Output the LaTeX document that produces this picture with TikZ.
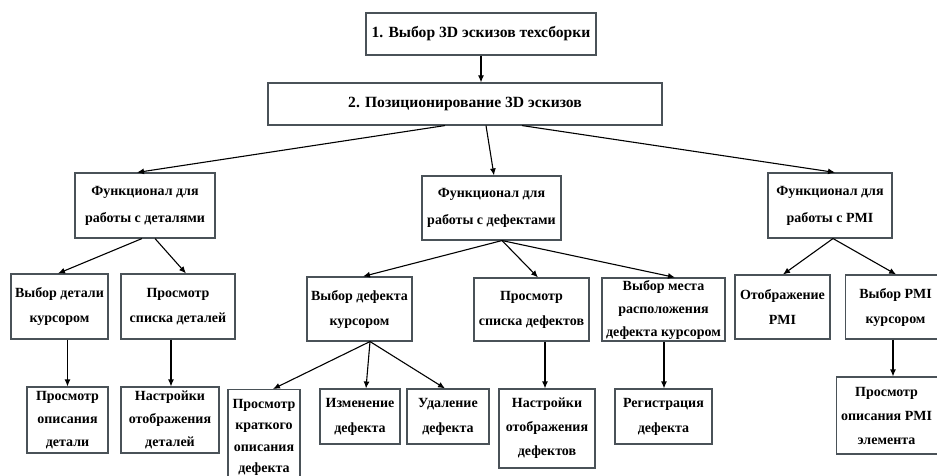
\documentclass[tikz,border=0pt]{standalone}
\usepackage{fontspec}
\setmainfont{Liberation Serif}
\usetikzlibrary{arrows.meta,calc}
\definecolor{boxgray}{HTML}{4A5258}
\tikzset{
  box/.style={draw=boxgray, line width=1.1pt, fill=white, align=center, inner sep=0pt,
    font=\fontsize{14}{25}\selectfont\bfseries},
  titlebox/.style={box, font=\fontsize{15.6}{20}\selectfont\bfseries},
  arr/.style={-{Latex[length=7pt,width=6pt]}, line width=1.1pt, black},
}
\begin{document}
\begin{tikzpicture}[x=1pt,y=-1pt]
\fill[white] (0,0) rectangle (937,476);
\useasboundingbox (0,0) rectangle (937,476);
% level 1-2
\node[titlebox, minimum width=230, minimum height=42] (b1) at (481,34) {1. Выбор 3D эскизов техсборки};
\node[titlebox, minimum width=394, minimum height=42] (b2) at (465,104) {2. Позиционирование 3D эскизов};
% level 3
\node[box, minimum width=140, minimum height=65, font=\fontsize{14}{27}\selectfont\bfseries] (f1) at (145,205.5) {Функционал для\\работы с деталями};
\node[box, minimum width=139, minimum height=64, font=\fontsize{14}{27}\selectfont\bfseries] (f2) at (491.5,208) {Функционал для\\работы с дефектами};
\node[box, minimum width=124, minimum height=65, font=\fontsize{14}{27}\selectfont\bfseries] (f3) at (830,205.5) {Функционал для\\работы с PMI};
% level 4
\node[box, minimum width=97, minimum height=65] (d1) at (59.5,306.5) {Выбор детали\\курсором};
\node[box, minimum width=114, minimum height=65] (d2) at (178,306.5) {Просмотр\\списка деталей};
\node[box, minimum width=105, minimum height=64] (e1) at (359.5,309) {Выбор дефекта\\курсором};
\node[box, minimum width=115, minimum height=63] (e2) at (531.5,309.5) {Просмотр\\списка дефектов};
\node[box, minimum width=123, minimum height=63, font=\fontsize{14}{23}\selectfont\bfseries] (e3) at (663.5,309.5) {Выбор места\\расположения\\дефекта курсором};
\node[box, minimum width=95, minimum height=64] (p1) at (782.5,307) {Отображение\\PMI};
\node[box, minimum width=100, minimum height=64, anchor=west] (p2) at (845,307) {Выбор PMI\\курсором};
% level 5
\node[box, minimum width=81, minimum height=66, font=\fontsize{14}{23}\selectfont\bfseries] (d3) at (67.5,420) {Просмотр\\описания\\детали};
\node[box, minimum width=98, minimum height=66, font=\fontsize{14}{23}\selectfont\bfseries] (d4) at (170,420) {Настройки\\отображения\\деталей};
\node[box, minimum width=72, minimum height=96, anchor=north, font=\fontsize{14}{21.5}\selectfont\bfseries] (e4) at (264,389) {Просмотр\\краткого\\описания\\дефекта};
\node[box, minimum width=80, minimum height=55] (e5) at (360,416.5) {Изменение\\дефекта};
\node[box, minimum width=82, minimum height=55] (e6) at (448,416.5) {Удаление\\дефекта};
\node[box, minimum width=96, minimum height=79, font=\fontsize{14}{24}\selectfont\bfseries] (e7) at (547,428.5) {Настройки\\отображения\\дефектов};
\node[box, minimum width=97, minimum height=55] (e8) at (663.5,416.5) {Регистрация\\дефекта};
\node[box, minimum width=110, minimum height=77, anchor=west, font=\fontsize{14}{24}\selectfont\bfseries] (p3) at (836,415.5) {\hspace*{-10pt}Просмотр\\\hspace*{-10pt}описания PMI\\\hspace*{-10pt}элемента};
% connectors
\draw[arr] (b1.south) -- (b1.south |- b2.north);
\draw[arr] ([xshift=-20pt]b2.south) -- ([xshift=-8pt]f1.north);
\draw[arr] ([xshift=21pt]b2.south) -- ([xshift=2.5pt]f2.north);
\draw[arr] ([xshift=57pt]b2.south) -- ([xshift=5pt]f3.north);
\draw[arr] ([xshift=-3pt]f1.south) -- ([xshift=-1.5pt]d1.north);
\draw[arr] ([xshift=10pt]f1.south) -- ([xshift=8pt]d2.north);
\coordinate (f2s) at ([xshift=10.5pt]f2.south);
\draw[arr] (f2s) -- ([xshift=3.5pt]e1.north);
\draw[arr] (f2s) -- ([xshift=6.5pt]e2.north);
\draw[arr] (f2s) -- ([xshift=11.5pt]e3.north);
\coordinate (f3s) at ([xshift=3pt]f3.south);
\draw[arr] (f3s) -- ([xshift=0.5pt]p1.north);
\draw[arr] (f3s) -- ([xshift=-50pt]p2.north east);
\draw[arr] (d3.north |- d1.south) -- (d3.north);
\draw[arr] ([xshift=-7pt]d2.south) -- ([xshift=-7pt]d2.south |- d4.north);
\coordinate (e1s) at ([xshift=10.5pt]e1.south);
\draw[arr] (e1s) -- ([xshift=9pt]e4.north);
\draw[arr] (e1s) -- ([xshift=6pt]e5.north);
\draw[arr] (e1s) -- ([xshift=-3pt]e6.north);
\draw[arr] ([xshift=13.5pt]e2.south) -- ([xshift=13.5pt]e2.south |- e7.north);
\draw[arr] ([xshift=0.5pt]e3.south) -- ([xshift=0.5pt]e3.south |- e8.north);
\draw[arr] ([xshift=48pt]p2.south west) -- ([xshift=48pt]p2.south west |- p3.north);
\end{tikzpicture}
\end{document}
